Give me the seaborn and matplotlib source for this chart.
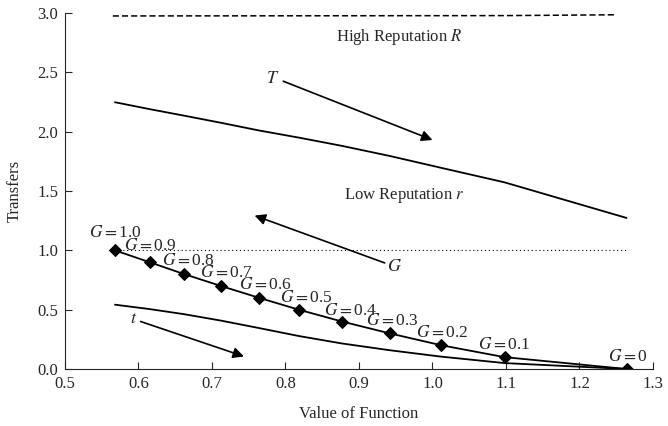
import matplotlib
matplotlib.use("Agg")
import matplotlib.pyplot as plt
import seaborn as sns
import pandas as pd

# values
g_levels = [1.0, 0.9, 0.8, 0.7, 0.6, 0.5, 0.4, 0.3, 0.2, 0.1, 0.0]
g_labels = ["1.0", "0.9", "0.8", "0.7", "0.6", "0.5", "0.4", "0.3", "0.2", "0.1", "0"]
value_fn = [0.568, 0.615, 0.662, 0.712, 0.764, 0.818, 0.877, 0.942, 1.012, 1.098, 1.264]
transfer_high = [2.248, 2.19, 2.135, 2.075, 2.01, 1.95, 1.88, 1.795, 1.695, 1.573, 1.273]
transfer_low = [0.542, 0.505, 0.462, 0.408, 0.345, 0.278, 0.215, 0.158, 0.104, 0.05, 0.0]
rep_high_x = [0.565, 1.10, 1.25]
rep_high_y = [2.975, 2.978, 2.985]
rep_low = 1.0

df = pd.DataFrame({"value": value_fn, "T": transfer_high, "t": transfer_low, "G": g_levels})

sns.set_style("ticks")
plt.rcParams["font.family"] = ["Liberation Serif", "DejaVu Serif"]
plt.rcParams["mathtext.fontset"] = "stix"

fig = plt.figure(figsize=(6.68, 4.26), dpi=100)
ax = fig.add_axes([0.0973, 0.1338, 0.8802, 0.8357])

sns.lineplot(x=rep_high_x, y=rep_high_y, ax=ax, color="black", lw=1.1,
             linestyle=(0, (4, 2)))
sns.lineplot(data=df, x="value", y="T", ax=ax, color="black", lw=1.3)
sns.lineplot(data=df, x="value", y="t", ax=ax, color="black", lw=1.3)
sns.lineplot(data=df, x="value", y="G", ax=ax, color="black", lw=1.3,
             marker="D", markersize=6.5, markeredgecolor="black")
ax.hlines(rep_low, value_fn[0], value_fn[-1], colors="black", linestyles=(0, (1, 2.5)), lw=0.8)

# G labels above each diamond
offsets = [(0, 17), (1, 16), (4, 13), (6, 13), (6, 13), (8, 12), (8, 11), (2, 12), (1, 12), (0, 12), (1, 12)]
for x, y, lab, off in zip(value_fn, g_levels, g_labels, offsets):
    ax.annotate(r"$G{=}$" + lab, (x, y), xytext=off, textcoords="offset pixels",
                ha="center", va="center", fontsize=12.5)

ax.text(0.955, 2.80, r"High Reputation $R$", ha="center", va="center", fontsize=12)
ax.text(0.962, 1.46, r"Low Reputation $r$", ha="center", va="center", fontsize=12)
ax.text(0.783, 2.45, r"$T$", ha="center", va="center", fontsize=13)
ax.text(0.949, 0.865, r"$G$", ha="center", va="center", fontsize=13)
ax.text(0.593, 0.424, r"$t$", ha="center", va="center", fontsize=13)

arrow = dict(arrowstyle="-|>", color="black", lw=1.2, mutation_scale=16, shrinkA=0, shrinkB=0)
ax.annotate("", xy=(1.0, 1.93), xytext=(0.797, 2.425), arrowprops=arrow)
ax.annotate("", xy=(0.758, 1.293), xytext=(0.935, 0.894), arrowprops=arrow)
ax.annotate("", xy=(0.7435, 0.106), xytext=(0.603, 0.40), arrowprops=arrow)

ax.set_xlim(0.5, 1.3)
ax.set_ylim(0, 3.0)
ax.set_xticks([0.5, 0.6, 0.7, 0.8, 0.9, 1.0, 1.1, 1.2, 1.3])
ax.set_yticks([0.0, 0.5, 1.0, 1.5, 2.0, 2.5, 3.0])
ax.xaxis.set_major_formatter(matplotlib.ticker.FormatStrFormatter("%.1f"))
ax.yaxis.set_major_formatter(matplotlib.ticker.FormatStrFormatter("%.1f"))
ax.tick_params(direction="in", length=5, width=0.8, labelsize=12, pad=5)
ax.set_xlabel("Value of Function", fontsize=12, labelpad=10)
ax.set_ylabel("Transfers", fontsize=12, labelpad=10)
sns.despine(ax=ax)
for s in ["left", "bottom"]:
    ax.spines[s].set_linewidth(0.8)

fig.savefig("out.png", dpi=100)
